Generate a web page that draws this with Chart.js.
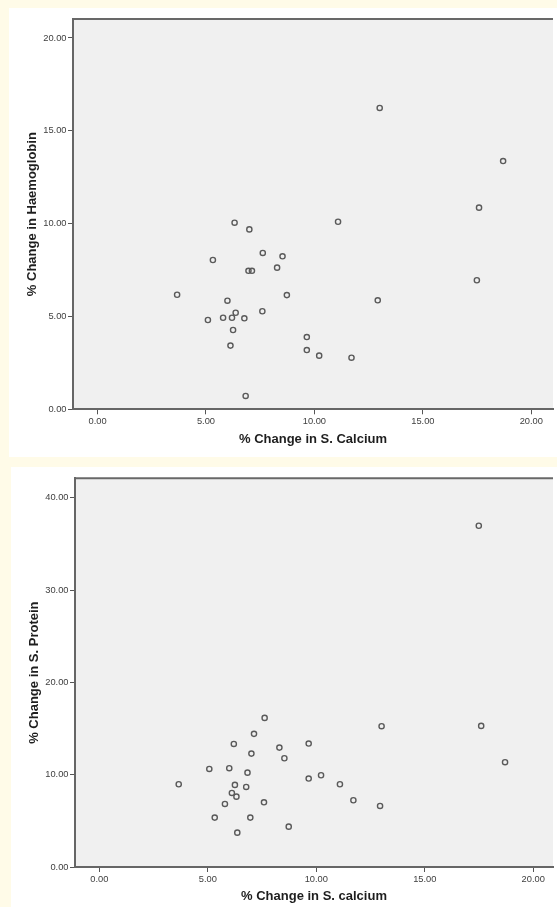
<!DOCTYPE html>
<html>
<head>
<meta charset="utf-8">
<style>
  html, body { margin: 0; padding: 0; background: #fffbe8; width: 557px; height: 907px; overflow: hidden; }
  .panel { position: absolute; background: #ffffff; }
  #p1 { left: 9px; top: 8px; width: 548px; height: 449px; }
  #p2 { left: 11px; top: 467px; width: 546px; height: 440px; }
  canvas { display: block; }
</style>
<script src="https://cdn.jsdelivr.net/npm/chart.js@4.4.1/dist/chart.umd.min.js"></script>
</head>
<body>
<div class="panel" id="p1"><canvas id="c1" width="548" height="449"></canvas></div>
<div class="panel" id="p2"><canvas id="c2" width="546" height="440"></canvas></div>
<script>
// % change in S. calcium vs % change in haemoglobin
const calciumHb = [6.32, 7.00, 7.62, 5.32, 6.96, 7.12, 8.28, 3.67, 5.99, 6.37,
                   7.60, 5.09, 5.79, 6.20, 6.77, 6.25, 6.13, 6.83, 13.01, 18.70,
                   17.59, 11.09, 8.53, 8.73, 17.49, 12.92, 9.65, 9.65, 10.22, 11.71];
const haemoglobin = [10.05, 9.69, 8.42, 8.04, 7.46, 7.46, 7.63, 6.17, 5.85, 5.20,
                     5.28, 4.81, 4.93, 4.93, 4.90, 4.27, 3.43, 0.72, 16.23, 13.37,
                     10.86, 10.10, 8.24, 6.15, 6.95, 5.87, 3.89, 3.19, 2.89, 2.78];

// % change in S. calcium vs % change in S. protein
const calciumProt = [7.62, 7.13, 6.20, 8.30, 7.01, 5.07, 5.99, 6.83, 3.66, 6.25,
                     6.77, 6.11, 6.32, 7.59, 5.79, 5.32, 6.96, 6.36, 17.49, 13.01,
                     17.60, 9.65, 8.53, 18.70, 9.65, 10.22, 11.09, 11.71, 12.94, 8.73];
const protein = [16.15, 14.42, 13.33, 12.93, 12.28, 10.62, 10.70, 10.22, 8.96, 8.89,
                 8.67, 8.02, 7.62, 7.01, 6.83, 5.35, 5.35, 3.72, 36.96, 15.25,
                 15.28, 13.37, 11.78, 11.35, 9.58, 9.94, 8.96, 7.23, 6.61, 4.37];

const xTicks = [0, 5, 10, 15, 20];
const hbTicks = [0, 5, 10, 15, 20];
const protTicks = [0, 10, 20, 30, 40];

const FONT = "'Liberation Sans', Arial, Helvetica, sans-serif";

// Grey plotting area with a dark frame line along the top
const plotFrame = {
  id: 'plotFrame',
  beforeDraw(chart) {
    const { ctx, chartArea: a } = chart;
    ctx.save();
    ctx.fillStyle = '#f0f0f0';
    ctx.fillRect(a.left, a.top, a.right - a.left, a.bottom - a.top);
    ctx.strokeStyle = '#686868';
    ctx.lineWidth = 2;
    ctx.beginPath();
    ctx.moveTo(a.left, a.top);
    ctx.lineTo(a.right, a.top);
    ctx.stroke();
    ctx.restore();
  }
};

function fixedTicks(list) {
  return scale => { scale.ticks = list.map(v => ({ value: v })); };
}

function scatterChart(id, xs, ys, o) {
  const points = xs.map((x, i) => ({ x: x, y: ys[i] }));
  return new Chart(document.getElementById(id), {
    type: 'scatter',
    data: {
      datasets: [{
        data: points,
        pointRadius: 2.6,
        pointHoverRadius: 2.6,
        pointBorderWidth: 1.4,
        borderColor: '#5a5a5a',
        backgroundColor: 'rgba(0,0,0,0)'
      }]
    },
    options: {
      responsive: false,
      animation: false,
      events: [],
      layout: { padding: { top: o.topPad, left: 0, right: 0, bottom: 0 } },
      plugins: { legend: { display: false }, tooltip: { enabled: false } },
      scales: {
        x: {
          type: 'linear',
          min: o.xMin,
          max: o.xMax,
          afterBuildTicks: fixedTicks(xTicks),
          afterFit: s => { s.height = o.xAxisHeight; },
          border: { display: true, color: '#666666', width: 2 },
          grid: { drawOnChartArea: false, drawTicks: true, tickLength: 5, tickColor: '#555555', tickWidth: 1 },
          ticks: {
            padding: 2,
            maxRotation: 0,
            color: '#404040',
            font: { family: FONT, size: 9.3 },
            callback: v => Number(v).toFixed(2)
          },
          title: {
            display: true,
            text: o.xTitle,
            color: '#1e1e1e',
            font: { family: FONT, size: 13, weight: 'bold' },
            padding: { top: 0, bottom: o.xTitlePad }
          }
        },
        y: {
          type: 'linear',
          min: o.yMin,
          max: o.yMax,
          afterBuildTicks: fixedTicks(o.yTicks),
          afterFit: s => { s.width = 64; },
          border: { display: true, color: '#666666', width: 2 },
          grid: { drawOnChartArea: false, drawTicks: true, tickLength: 5, tickColor: '#555555', tickWidth: 1 },
          ticks: {
            padding: 1.5,
            color: '#404040',
            font: { family: FONT, size: 9.3 },
            callback: v => Number(v).toFixed(2)
          },
          title: {
            display: true,
            text: o.yTitle,
            color: '#1e1e1e',
            font: { family: FONT, size: 13, weight: 'bold' },
            padding: { top: o.yTitlePad, bottom: 0 }
          }
        }
      }
    },
    plugins: [plotFrame]
  });
}

scatterChart('c1', calciumHb, haemoglobin, {
  xMin: -1.13, xMax: 21.0, yMin: 0, yMax: 21.02, yTicks: hbTicks,
  topPad: 11, xAxisHeight: 47.7, xTitlePad: 9.9, yTitlePad: 15.2,
  xTitle: '% Change in S. Calcium', yTitle: '% Change in Haemoglobin'
});

scatterChart('c2', calciumProt, protein, {
  xMin: -1.12, xMax: 20.91, yMin: 0, yMax: 42.1, yTicks: protTicks,
  topPad: 11.3, xAxisHeight: 40, xTitlePad: 2.5, yTitlePad: 15.9,
  xTitle: '% Change in S. calcium', yTitle: '% Change in S. Protein'
});
</script>
</body>
</html>
